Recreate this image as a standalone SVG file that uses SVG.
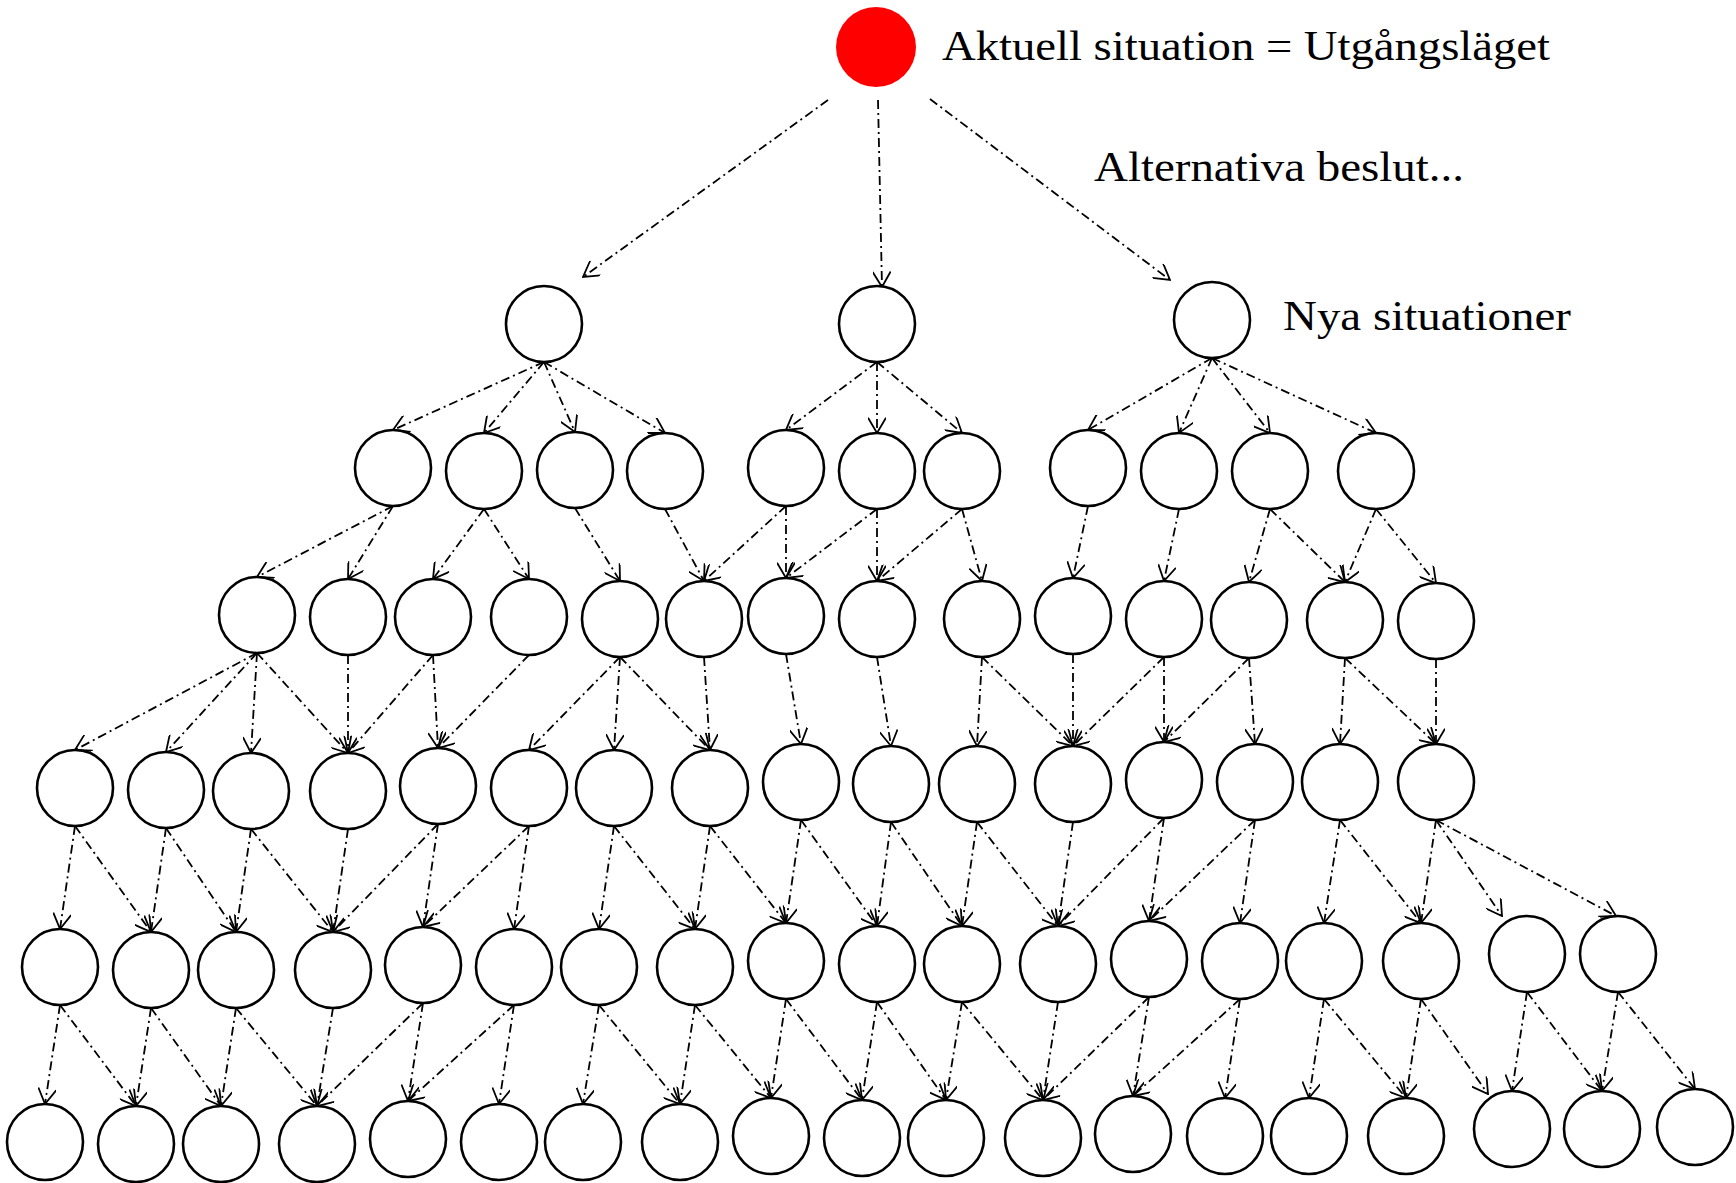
<svg xmlns="http://www.w3.org/2000/svg" width="1736" height="1183" viewBox="0 0 1736 1183">
<style>
.n{fill:#fff;stroke:#000;stroke-width:2.6}
.red{fill:#ff0000;stroke:none}
.c line{stroke:#000;stroke-width:1.8;stroke-dasharray:9 4 2 4;fill:none;marker-end:url(#ah)}
.t{font-family:"Liberation Serif","Times New Roman",serif;font-size:43px;fill:#000}
</style>
<defs>
<marker id="ah" viewBox="0 0 20 20" refX="19" refY="10" markerWidth="18" markerHeight="18" markerUnits="userSpaceOnUse" orient="auto">
<path d="M2,0 L19,10 L2,20" fill="none" stroke="#000" stroke-width="2"/>
</marker>
</defs>
<rect width="1736" height="1183" fill="#fff"/>
<g id="connectors" class="c">
<line x1="828" y1="100" x2="583" y2="277"/>
<line x1="878" y1="100" x2="882" y2="287"/>
<line x1="930" y1="99" x2="1170" y2="280"/>
<line x1="544" y1="362" x2="393" y2="430"/>
<line x1="544" y1="362" x2="484" y2="433"/>
<line x1="544" y1="362" x2="575" y2="432"/>
<line x1="544" y1="362" x2="665" y2="433"/>
<line x1="877" y1="362" x2="786" y2="430"/>
<line x1="877" y1="362" x2="877" y2="433"/>
<line x1="877" y1="362" x2="962" y2="433"/>
<line x1="1212" y1="358" x2="1088" y2="430"/>
<line x1="1212" y1="358" x2="1179" y2="433"/>
<line x1="1212" y1="358" x2="1270" y2="433"/>
<line x1="1212" y1="358" x2="1376" y2="433"/>
<line x1="393" y1="506" x2="257" y2="577"/>
<line x1="393" y1="506" x2="348" y2="579"/>
<line x1="484" y1="509" x2="433" y2="579"/>
<line x1="484" y1="509" x2="529" y2="579"/>
<line x1="575" y1="508" x2="620" y2="581"/>
<line x1="665" y1="509" x2="704" y2="581"/>
<line x1="786" y1="506" x2="704" y2="581"/>
<line x1="786" y1="506" x2="786" y2="578"/>
<line x1="877" y1="509" x2="786" y2="578"/>
<line x1="877" y1="509" x2="877" y2="581"/>
<line x1="962" y1="509" x2="877" y2="581"/>
<line x1="962" y1="509" x2="982" y2="581"/>
<line x1="1088" y1="506" x2="1073" y2="578"/>
<line x1="1179" y1="509" x2="1164" y2="581"/>
<line x1="1270" y1="509" x2="1249" y2="582"/>
<line x1="1270" y1="509" x2="1345" y2="582"/>
<line x1="1376" y1="509" x2="1345" y2="582"/>
<line x1="1376" y1="509" x2="1436" y2="583"/>
<line x1="257" y1="653" x2="75" y2="750"/>
<line x1="257" y1="653" x2="166" y2="752"/>
<line x1="257" y1="653" x2="251" y2="753"/>
<line x1="257" y1="653" x2="348" y2="753"/>
<line x1="348" y1="655" x2="348" y2="753"/>
<line x1="433" y1="655" x2="348" y2="753"/>
<line x1="433" y1="655" x2="438" y2="748"/>
<line x1="529" y1="655" x2="438" y2="748"/>
<line x1="620" y1="657" x2="529" y2="750"/>
<line x1="620" y1="657" x2="614" y2="750"/>
<line x1="620" y1="657" x2="710" y2="750"/>
<line x1="704" y1="657" x2="710" y2="750"/>
<line x1="786" y1="654" x2="801" y2="744"/>
<line x1="877" y1="657" x2="891" y2="746"/>
<line x1="982" y1="657" x2="977" y2="746"/>
<line x1="982" y1="657" x2="1073" y2="746"/>
<line x1="1073" y1="654" x2="1073" y2="746"/>
<line x1="1164" y1="657" x2="1073" y2="746"/>
<line x1="1164" y1="657" x2="1164" y2="742"/>
<line x1="1249" y1="658" x2="1164" y2="742"/>
<line x1="1249" y1="658" x2="1255" y2="744"/>
<line x1="1345" y1="658" x2="1340" y2="744"/>
<line x1="1345" y1="658" x2="1436" y2="744"/>
<line x1="1436" y1="659" x2="1436" y2="744"/>
<line x1="75" y1="826" x2="60" y2="929"/>
<line x1="75" y1="826" x2="151" y2="932"/>
<line x1="166" y1="828" x2="151" y2="932"/>
<line x1="166" y1="828" x2="236" y2="932"/>
<line x1="251" y1="829" x2="236" y2="932"/>
<line x1="251" y1="829" x2="333" y2="932"/>
<line x1="348" y1="829" x2="333" y2="932"/>
<line x1="438" y1="824" x2="333" y2="932"/>
<line x1="438" y1="824" x2="423" y2="927"/>
<line x1="529" y1="826" x2="423" y2="927"/>
<line x1="529" y1="826" x2="514" y2="929"/>
<line x1="614" y1="826" x2="599" y2="929"/>
<line x1="614" y1="826" x2="695" y2="929"/>
<line x1="710" y1="826" x2="695" y2="929"/>
<line x1="710" y1="826" x2="786" y2="923"/>
<line x1="801" y1="820" x2="786" y2="923"/>
<line x1="801" y1="820" x2="877" y2="926"/>
<line x1="891" y1="822" x2="877" y2="926"/>
<line x1="891" y1="822" x2="962" y2="926"/>
<line x1="977" y1="822" x2="962" y2="926"/>
<line x1="977" y1="822" x2="1058" y2="926"/>
<line x1="1073" y1="822" x2="1058" y2="926"/>
<line x1="1164" y1="818" x2="1058" y2="926"/>
<line x1="1164" y1="818" x2="1149" y2="921"/>
<line x1="1255" y1="820" x2="1149" y2="921"/>
<line x1="1255" y1="820" x2="1240" y2="923"/>
<line x1="1340" y1="820" x2="1324" y2="923"/>
<line x1="1340" y1="820" x2="1421" y2="923"/>
<line x1="1436" y1="820" x2="1421" y2="923"/>
<line x1="1436" y1="820" x2="1502" y2="916"/>
<line x1="1436" y1="820" x2="1616" y2="916"/>
<line x1="60" y1="1005" x2="45" y2="1104"/>
<line x1="60" y1="1005" x2="136" y2="1106"/>
<line x1="151" y1="1008" x2="136" y2="1106"/>
<line x1="151" y1="1008" x2="221" y2="1106"/>
<line x1="236" y1="1008" x2="221" y2="1106"/>
<line x1="236" y1="1008" x2="317" y2="1106"/>
<line x1="333" y1="1008" x2="317" y2="1106"/>
<line x1="423" y1="1003" x2="317" y2="1106"/>
<line x1="423" y1="1003" x2="408" y2="1101"/>
<line x1="514" y1="1005" x2="408" y2="1101"/>
<line x1="514" y1="1005" x2="499" y2="1104"/>
<line x1="599" y1="1005" x2="583" y2="1104"/>
<line x1="599" y1="1005" x2="680" y2="1104"/>
<line x1="695" y1="1005" x2="680" y2="1104"/>
<line x1="695" y1="1005" x2="771" y2="1098"/>
<line x1="786" y1="999" x2="771" y2="1098"/>
<line x1="786" y1="999" x2="862" y2="1100"/>
<line x1="877" y1="1002" x2="862" y2="1100"/>
<line x1="877" y1="1002" x2="946" y2="1100"/>
<line x1="962" y1="1002" x2="946" y2="1100"/>
<line x1="962" y1="1002" x2="1043" y2="1100"/>
<line x1="1058" y1="1002" x2="1043" y2="1100"/>
<line x1="1149" y1="997" x2="1043" y2="1100"/>
<line x1="1149" y1="997" x2="1133" y2="1096"/>
<line x1="1240" y1="999" x2="1133" y2="1096"/>
<line x1="1240" y1="999" x2="1225" y2="1098"/>
<line x1="1324" y1="999" x2="1309" y2="1098"/>
<line x1="1324" y1="999" x2="1406" y2="1098"/>
<line x1="1421" y1="999" x2="1406" y2="1098"/>
<line x1="1421" y1="999" x2="1488" y2="1094"/>
<line x1="1527" y1="992" x2="1512" y2="1091"/>
<line x1="1527" y1="992" x2="1602" y2="1091"/>
<line x1="1618" y1="992" x2="1602" y2="1091"/>
<line x1="1618" y1="992" x2="1695" y2="1089"/>
</g>
<g id="root"><circle class="red" cx="876" cy="47" r="40"/></g>
<g id="A1"><circle class="n" cx="544" cy="324" r="38"/></g>
<g id="A2"><circle class="n" cx="877" cy="324" r="38"/></g>
<g id="A3"><circle class="n" cx="1212" cy="320" r="38"/></g>
<g id="B1"><circle class="n" cx="393" cy="468" r="38"/></g>
<g id="B2"><circle class="n" cx="484" cy="471" r="38"/></g>
<g id="B3"><circle class="n" cx="575" cy="470" r="38"/></g>
<g id="B4"><circle class="n" cx="665" cy="471" r="38"/></g>
<g id="B5"><circle class="n" cx="786" cy="468" r="38"/></g>
<g id="B6"><circle class="n" cx="877" cy="471" r="38"/></g>
<g id="B7"><circle class="n" cx="962" cy="471" r="38"/></g>
<g id="B8"><circle class="n" cx="1088" cy="468" r="38"/></g>
<g id="B9"><circle class="n" cx="1179" cy="471" r="38"/></g>
<g id="B10"><circle class="n" cx="1270" cy="471" r="38"/></g>
<g id="B11"><circle class="n" cx="1376" cy="471" r="38"/></g>
<g id="C1"><circle class="n" cx="257" cy="615" r="38"/></g>
<g id="C2"><circle class="n" cx="348" cy="617" r="38"/></g>
<g id="C3"><circle class="n" cx="433" cy="617" r="38"/></g>
<g id="C4"><circle class="n" cx="529" cy="617" r="38"/></g>
<g id="C5"><circle class="n" cx="620" cy="619" r="38"/></g>
<g id="C6"><circle class="n" cx="704" cy="619" r="38"/></g>
<g id="C7"><circle class="n" cx="786" cy="616" r="38"/></g>
<g id="C8"><circle class="n" cx="877" cy="619" r="38"/></g>
<g id="C9"><circle class="n" cx="982" cy="619" r="38"/></g>
<g id="C10"><circle class="n" cx="1073" cy="616" r="38"/></g>
<g id="C11"><circle class="n" cx="1164" cy="619" r="38"/></g>
<g id="C12"><circle class="n" cx="1249" cy="620" r="38"/></g>
<g id="C13"><circle class="n" cx="1345" cy="620" r="38"/></g>
<g id="C14"><circle class="n" cx="1436" cy="621" r="38"/></g>
<g id="D1"><circle class="n" cx="75" cy="788" r="38"/></g>
<g id="D2"><circle class="n" cx="166" cy="790" r="38"/></g>
<g id="D3"><circle class="n" cx="251" cy="791" r="38"/></g>
<g id="D4"><circle class="n" cx="348" cy="791" r="38"/></g>
<g id="D5"><circle class="n" cx="438" cy="786" r="38"/></g>
<g id="D6"><circle class="n" cx="529" cy="788" r="38"/></g>
<g id="D7"><circle class="n" cx="614" cy="788" r="38"/></g>
<g id="D8"><circle class="n" cx="710" cy="788" r="38"/></g>
<g id="D9"><circle class="n" cx="801" cy="782" r="38"/></g>
<g id="D10"><circle class="n" cx="891" cy="784" r="38"/></g>
<g id="D11"><circle class="n" cx="977" cy="784" r="38"/></g>
<g id="D12"><circle class="n" cx="1073" cy="784" r="38"/></g>
<g id="D13"><circle class="n" cx="1164" cy="780" r="38"/></g>
<g id="D14"><circle class="n" cx="1255" cy="782" r="38"/></g>
<g id="D15"><circle class="n" cx="1340" cy="782" r="38"/></g>
<g id="D16"><circle class="n" cx="1436" cy="782" r="38"/></g>
<g id="E1"><circle class="n" cx="60" cy="967" r="38"/></g>
<g id="E2"><circle class="n" cx="151" cy="970" r="38"/></g>
<g id="E3"><circle class="n" cx="236" cy="970" r="38"/></g>
<g id="E4"><circle class="n" cx="333" cy="970" r="38"/></g>
<g id="E5"><circle class="n" cx="423" cy="965" r="38"/></g>
<g id="E6"><circle class="n" cx="514" cy="967" r="38"/></g>
<g id="E7"><circle class="n" cx="599" cy="967" r="38"/></g>
<g id="E8"><circle class="n" cx="695" cy="967" r="38"/></g>
<g id="E9"><circle class="n" cx="786" cy="961" r="38"/></g>
<g id="E10"><circle class="n" cx="877" cy="964" r="38"/></g>
<g id="E11"><circle class="n" cx="962" cy="964" r="38"/></g>
<g id="E12"><circle class="n" cx="1058" cy="964" r="38"/></g>
<g id="E13"><circle class="n" cx="1149" cy="959" r="38"/></g>
<g id="E14"><circle class="n" cx="1240" cy="961" r="38"/></g>
<g id="E15"><circle class="n" cx="1324" cy="961" r="38"/></g>
<g id="E16"><circle class="n" cx="1421" cy="961" r="38"/></g>
<g id="E17"><circle class="n" cx="1527" cy="954" r="38"/></g>
<g id="E18"><circle class="n" cx="1618" cy="954" r="38"/></g>
<g id="F1"><circle class="n" cx="45" cy="1142" r="38"/></g>
<g id="F2"><circle class="n" cx="136" cy="1144" r="38"/></g>
<g id="F3"><circle class="n" cx="221" cy="1144" r="38"/></g>
<g id="F4"><circle class="n" cx="317" cy="1144" r="38"/></g>
<g id="F5"><circle class="n" cx="408" cy="1139" r="38"/></g>
<g id="F6"><circle class="n" cx="499" cy="1142" r="38"/></g>
<g id="F7"><circle class="n" cx="583" cy="1142" r="38"/></g>
<g id="F8"><circle class="n" cx="680" cy="1142" r="38"/></g>
<g id="F9"><circle class="n" cx="771" cy="1136" r="38"/></g>
<g id="F10"><circle class="n" cx="862" cy="1138" r="38"/></g>
<g id="F11"><circle class="n" cx="946" cy="1138" r="38"/></g>
<g id="F12"><circle class="n" cx="1043" cy="1138" r="38"/></g>
<g id="F13"><circle class="n" cx="1133" cy="1134" r="38"/></g>
<g id="F14"><circle class="n" cx="1225" cy="1136" r="38"/></g>
<g id="F15"><circle class="n" cx="1309" cy="1136" r="38"/></g>
<g id="F16"><circle class="n" cx="1406" cy="1136" r="38"/></g>
<g id="F17"><circle class="n" cx="1512" cy="1129" r="38"/></g>
<g id="F18"><circle class="n" cx="1602" cy="1129" r="38"/></g>
<g id="F19"><circle class="n" cx="1695" cy="1127" r="38"/></g>
<g id="labels">
<text class="t" x="942" y="60" textLength="608" lengthAdjust="spacingAndGlyphs">Aktuell situation = Utgångsläget</text>
<text class="t" x="1094" y="181" textLength="370" lengthAdjust="spacingAndGlyphs">Alternativa beslut...</text>
<text class="t" x="1283" y="330" textLength="288" lengthAdjust="spacingAndGlyphs">Nya situationer</text>
</g>
</svg>
